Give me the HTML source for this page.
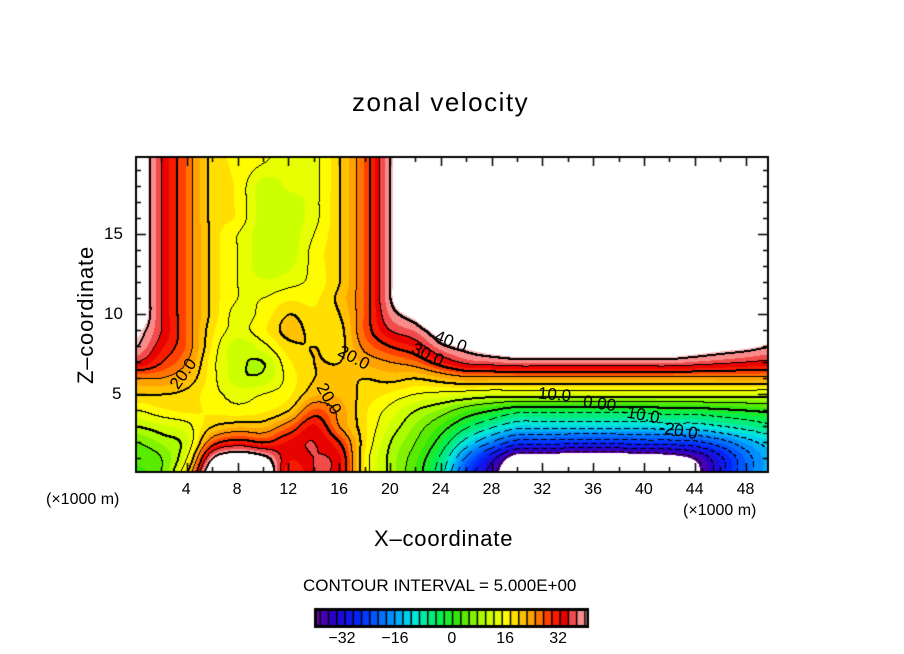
<!DOCTYPE html>
<html><head><meta charset="utf-8">
<style>
html,body{margin:0;padding:0;background:#fff;}
#wrap{position:relative;width:904px;height:654px;overflow:hidden;font-family:"Liberation Sans",sans-serif;color:#000;}
.t{position:absolute;white-space:nowrap;}
canvas{position:absolute;left:0;top:0;}
</style></head><body>
<div id="wrap">
<canvas id="cv" width="904" height="654"></canvas>
<div class="t" style="left:352px;top:87px;font-size:26px;letter-spacing:1.5px;">zonal velocity</div>
<div class="t" style="left:374px;top:526px;font-size:22px;letter-spacing:0.8px;">X&#8211;coordinate</div>
<div class="t" style="left:-4px;top:302px;font-size:22px;letter-spacing:0.8px;transform:rotate(-90deg);transform-origin:center;width:180px;text-align:center;">Z&#8211;coordinate</div>
<div class="t" style="left:46px;top:491px;font-size:16px;">(×1000 m)</div>
<div class="t" style="left:683px;top:502px;font-size:16px;">(×1000 m)</div>
<div class="t" style="left:303px;top:576px;font-size:17px;">CONTOUR INTERVAL = 5.000E+00</div>
<div id="labels"></div>
</div>
<script>
// grid x positions (×1000 m) and z positions
const xs = [0,2,4,6,8,10,12,14,16,18,20,22,24,26,28,30,32,34,36,38,40,42,44,46,48,50];
const zs = [0,1,2,3,4,5,6,7,8,9,10,11,12,13,14,15,16,17,18,19,20];
// values per column, z = 0..20 (>41 or < -41 shown white)
const c00=[2,3,5,10,15,20,25,35,40,42,45,45,45,45,45,45,45,45,45,45,45];
const c02=[5,5,8,12,17,20,25,30,33,35,35,35,35,35,35,35,35,35,35,35,35];
const c04=[20,15,12,14,18,19,22,25,27,27,27,27,27,27,27,27,27,27,27,27,27];
const c06=[48,40,28,20,17,16,16,16,17,18,19,19,19,19,19,19,19,19,19,19,19];
const c08=[50,45,32,22,16,14,11,11,11,14,14,15,15,15,15,15,17,17,17,17,17];
const c10=[48,42,30,22,17,15,11,10,14,17,16,15,13,11,11,11,11,11,11,14,16];
const c12=[30,33,33,27,20,17,16,17,19,21,20,17,14,12,11,11,11,11,13,13,13];
const c14=[35,35,35,33,28,22,20,20,20,19,18,17,16,16,16,15,14,14,14,14,14];
const c16=[33,33,30,25,24,22,21,20,19,19,20,21,20,20,20,20,20,20,20,20,20];
const c18=[17,17,18,18,18,19,20,23,26,28,28,28,28,28,28,28,28,28,28,28,28];
const c20=[9,9,10,12,14,17,21,25,30,35,38,40,40,40,40,40,40,40,40,40,40];
const c22=[2,3,5,7,10,15,20,27,33,38,43,50,50,50,50,50,50,50,50,50,50];
const c24=[-8,-6,-2,2,7,14,22,32,39,44,50,50,50,50,50,50,50,50,50,50,50];
const c26=[-26,-21,-12,-4,3,13,24,36,42,50,50,50,50,50,50,50,50,50,50,50,50];
const c28=[-38,-33,-20,-9,0,12,24,37,44,50,50,50,50,50,50,50,50,50,50,50,50];
const c30=[-50,-45,-27,-13,-3,12,24,38,45,50,50,50,50,50,50,50,50,50,50,50,50];
const c32=[-50,-45,-27,-13,-3,12,24,38,45,50,50,50,50,50,50,50,50,50,50,50,50];
const c34=[-50,-46,-28,-13,-3,12,24,38,45,50,50,50,50,50,50,50,50,50,50,50,50];
const c36=[-50,-46,-28,-13,-3,12,24,38,45,50,50,50,50,50,50,50,50,50,50,50,50];
const c38=[-50,-46,-28,-13,-3,12,24,38,45,50,50,50,50,50,50,50,50,50,50,50,50];
const c40=[-50,-45,-27,-13,-3,12,24,38,45,50,50,50,50,50,50,50,50,50,50,50,50];
const c42=[-48,-44,-27,-12,-2,12,24,38,45,50,50,50,50,50,50,50,50,50,50,50,50];
const c44=[-43,-40,-26,-12,-2,12,24,37,44,50,50,50,50,50,50,50,50,50,50,50,50];
const c46=[-32,-31,-22,-10,-1,12,24,36,43,50,50,50,50,50,50,50,50,50,50,50,50];
const c48=[-22,-22,-17,-8,0,12,24,35,42,50,50,50,50,50,50,50,50,50,50,50,50];
const c50=[-16,-16,-13,-6,1,12,24,34,40,44,50,50,50,50,50,50,50,50,50,50,50];
const columns=[c00,c02,c04,c06,c08,c10,c12,c14,c16,c18,c20,c22,c24,c26,c28,c30,c32,c34,c36,c38,c40,c42,c44,c46,c48,c50];
const xTicks=[4,8,12,16,20,24,28,32,36,40,44,48];
const zTicks=[5,10,15];
const cbTicks=[-32,-16,0,16,32];
const labelTexts=["20.0","20.0","20.0","30.0","40.0","10.0","0.00","-10.0","-20.0"];
const labelX=[3.8,17.2,15.2,23.0,24.8,33.0,36.5,39.5,42.5];
const labelZ=[6.2,7.2,4.6,7.4,8.2,4.9,4.3,3.6,2.6];
const labelRot=[-55,28,60,25,22,5,8,10,10];

const X0=136,X1=768,Y0=157,Y1=472;
const px=x=>X0+x*12.7, py=z=>474-z*16;
const ix=p=>(p-X0)/12.7, iz=p=>(474-p)/16;
const stops=[[-42,110,0,160],[-36,40,0,200],[-28,0,40,255],[-18,0,150,255],[-12,0,230,230],[-4,0,240,80],[2,60,230,0],[10,190,255,0],[16,255,255,0],[24,255,160,0],[30,255,40,0],[34,230,0,0],[37,245,100,100],[41,255,190,190]];
function col(v){
  if(v<=stops[0][0])return stops[0].slice(1);
  for(let i=1;i<stops.length;i++){if(v<=stops[i][0]){const a=stops[i-1],b=stops[i],t=(v-a[0])/(b[0]-a[0]);return [a[1]+t*(b[1]-a[1]),a[2]+t*(b[2]-a[2]),a[3]+t*(b[3]-a[3])];}}
  return stops[stops.length-1].slice(1);
}
function g(i,j){i=Math.max(0,Math.min(xs.length-1,i));j=Math.max(0,Math.min(zs.length-1,j));return columns[i][j];}
function cr(p0,p1,p2,p3,t){return 0.5*((2*p1)+(-p0+p2)*t+(2*p0-5*p1+4*p2-p3)*t*t+(-p0+3*p1-3*p2+p3)*t*t*t);}
function val(x,z){
  const fx=Math.max(0,Math.min(xs.length-1.001,x/2)),fz=Math.max(0,Math.min(zs.length-1.001,z));
  const i=Math.floor(fx),j=Math.floor(fz),tx=fx-i,tz=fz-j;
  const r=[];
  for(let m=-1;m<=2;m++)r.push(cr(g(i-1,j+m),g(i,j+m),g(i+1,j+m),g(i+2,j+m),tx));
  return cr(r[0],r[1],r[2],r[3],tz);
}
const cv=document.getElementById('cv'),ctx=cv.getContext('2d');
const W=X1-X0,H=Y1-Y0;
const img=ctx.createImageData(W,H);
const V=new Float32Array(W*H);
for(let j=0;j<H;j++)for(let i=0;i<W;i++)V[j*W+i]=val(ix(X0+i),iz(Y0+j));
const lev=v=>Math.floor(v/5);
for(let j=0;j<H;j++)for(let i=0;i<W;i++){
  const v=V[j*W+i],k=(j*W+i)*4;let c;
  if(v>41||v<-41)c=[255,255,255];else c=col(Math.floor(v/2.5)*2.5+1.25);
  let line=false;
  const nb=[i+1<W?V[j*W+i+1]:v,j+1<H?V[(j+1)*W+i]:v];
  for(const n of nb){if(lev(n)!==lev(v)){const L=Math.max(lev(n),lev(v))*5;if(!(L<0&&((i+j)%9)<3))line=true;}}
  if(line&&Math.abs(v)<=42)c=[0,0,0];
  img.data[k]=c[0];img.data[k+1]=c[1];img.data[k+2]=c[2];img.data[k+3]=255;
}
// thicken multiples-of-10 lines
for(let j=0;j<H-1;j++)for(let i=0;i<W-1;i++){
  const v=V[j*W+i],n1=V[j*W+i+1],n2=V[(j+1)*W+i];
  for(const n of [n1,n2]){if(lev(n)!==lev(v)){const L=Math.max(lev(n),lev(v))*5;if(L%10===0&&L>=0&&Math.abs(v)<=42){const k=(j*W+i+1)*4,k2=((j+1)*W+i)*4;img.data[k]=img.data[k+1]=img.data[k+2]=0;img.data[k2]=img.data[k2+1]=img.data[k2+2]=0;}}}
}
ctx.putImageData(img,X0,Y0);
// frame
ctx.strokeStyle='#000';ctx.lineWidth=2;ctx.strokeRect(X0,Y0,W,H);
ctx.lineWidth=1.5;ctx.beginPath();
for(let x=2;x<50;x+=2){const p=Math.round(px(x))+0.5,L=x%4===0?9:5;ctx.moveTo(p,Y1);ctx.lineTo(p,Y1-L);ctx.moveTo(p,Y0);ctx.lineTo(p,Y0+L);}
for(let z=1;z<20;z++){const p=Math.round(py(z))+0.5,L=z%5===0?10:5;ctx.moveTo(X0,p);ctx.lineTo(X0+L,p);ctx.moveTo(X1,p);ctx.lineTo(X1-L,p);}
ctx.stroke();
// colorbar
const CB0=315,CB1=588,CY=609,CH=18,cbMin=-41.5,cbMax=41;
const cbx=v=>CB0+(v-cbMin)/(cbMax-cbMin)*(CB1-CB0);
ctx.fillStyle='#000';ctx.fillRect(CB0,CY,CB1-CB0,CH);
for(let v=-42.5;v<41;v+=2.5){const a=Math.max(CB0+1,cbx(v)),b=Math.min(CB1-1,cbx(v+2.5));const c=col(v+1.25);ctx.fillStyle=`rgb(${c[0]|0},${c[1]|0},${c[2]|0})`;ctx.fillRect(a+1,CY+2,b-a-1.5,CH-4);}
ctx.lineWidth=2;ctx.strokeStyle='#000';ctx.strokeRect(CB0,CY,CB1-CB0,CH);
const lab=document.getElementById('labels');
function addText(txt,l,t,fs,name,rot){
  const e=document.createElement('div');e.className='t';e.textContent=txt;
  e.style.left=l+'px';e.style.top=t+'px';e.style.fontSize=fs+'px';
  if(rot){e.style.transform='rotate('+rot+'deg)';}
  
  
  lab.appendChild(e);return e;
}
xTicks.forEach(x=>{addText(String(x),px(x)-(x<10?5:9),481,16,'x-tick-label');});
zTicks.forEach(z=>{addText(String(z),z<10?112:104,py(z)-10,17,'z-tick-label');});
cbTicks.forEach(v=>{const s=v<0?'\u2212'+(-v):String(v);addText(s,cbx(v)-(v<0?18:(v===0?5:9)),630,16,'colorbar-tick-label');});
labelTexts.forEach((s,i)=>{addText(s,px(labelX[i])-17,py(labelZ[i])-11,17,'contour-label',labelRot[i]);});
</script>
</body></html>
